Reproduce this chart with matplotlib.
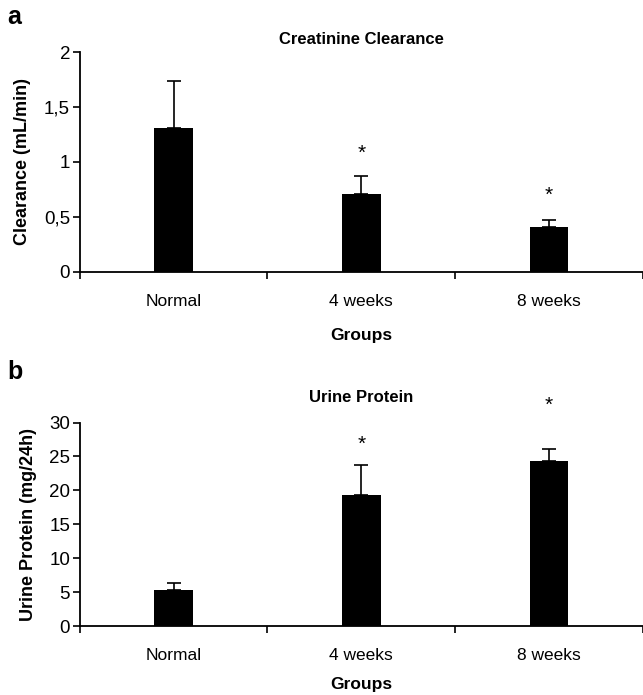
import matplotlib.pyplot as plt
import numpy as np

plt.rcParams['font.family'] = ['Liberation Sans', 'DejaVu Sans']

# dados
grupos = ['Normal', '4 weeks', '8 weeks']

clearance = [1.31, 0.71, 0.41]
clearance_err = [0.43, 0.16, 0.06]
clearance_ast = [None, 1.08, 0.70]
clearance_ticks = [0, 0.5, 1, 1.5, 2]
clearance_ticklabels = ['0', '0,5', '1', '1,5', '2']

proteina = [5.4, 19.3, 24.4]
proteina_err = [0.9, 4.4, 1.7]
proteina_ast = [None, 26.8, 32.5]
proteina_ticks = [0, 5, 10, 15, 20, 25, 30]
proteina_ticklabels = ['0', '5', '10', '15', '20', '25', '30']


def painel(ax, valores, erros, asteriscos, ticks, ticklabels, titulo, ylabel,
           pad_titulo, pad_xlabel):
    x = np.arange(len(grupos))
    ax.bar(x, valores, width=0.205, color='black',
           yerr=[np.zeros(len(erros)), erros],
           error_kw=dict(ecolor='black', elinewidth=1.2, capsize=5, capthick=1.2))
    for xi, a in zip(x, asteriscos):
        if a is not None:
            ax.text(xi, a, '*', ha='center', va='center', fontsize=15, clip_on=False)
    ax.set_xlim(-0.5, 2.5)
    ax.set_ylim(ticks[0], ticks[-1])
    ax.set_yticks(ticks)
    ax.set_yticklabels(ticklabels, fontsize=13.5)
    ax.set_xticks(x)
    ax.set_xticklabels(grupos, fontsize=12.5)
    ax.set_xticks([-0.5, 0.5, 1.5, 2.5], minor=True)
    ax.tick_params(axis='x', which='major', length=0, pad=16)
    ax.tick_params(axis='x', which='minor', length=5, width=1.2)
    ax.tick_params(axis='y', length=5, width=1.2, pad=2)
    for s in ['top', 'right']:
        ax.spines[s].set_visible(False)
    for s in ['left', 'bottom']:
        ax.spines[s].set_linewidth(1.3)
    ax.set_title(titulo, fontsize=12, fontweight='bold', pad=pad_titulo)
    ax.set_xlabel('Groups', fontsize=12.5, fontweight='bold', labelpad=pad_xlabel)
    ax.set_ylabel(ylabel, fontsize=13, fontweight='bold', labelpad=9)


fig = plt.figure(figsize=(6.43, 6.95), dpi=100)
ax1 = fig.add_axes([0.124, 0.609, 0.876, 0.316])
ax2 = fig.add_axes([0.124, 0.099, 0.876, 0.293])

painel(ax1, clearance, clearance_err, clearance_ast, clearance_ticks,
       clearance_ticklabels, 'Creatinine Clearance', 'Clearance (mL/min)', 6, 14)
painel(ax2, proteina, proteina_err, proteina_ast, proteina_ticks,
       proteina_ticklabels, 'Urine Protein', 'Urine Protein (mg/24h)', 15, 9.5)

fig.text(0.012, 0.975, 'a', fontsize=18, fontweight='bold', va='center')
fig.text(0.012, 0.465, 'b', fontsize=18, fontweight='bold', va='center')

fig.savefig('out.png', dpi=100)
